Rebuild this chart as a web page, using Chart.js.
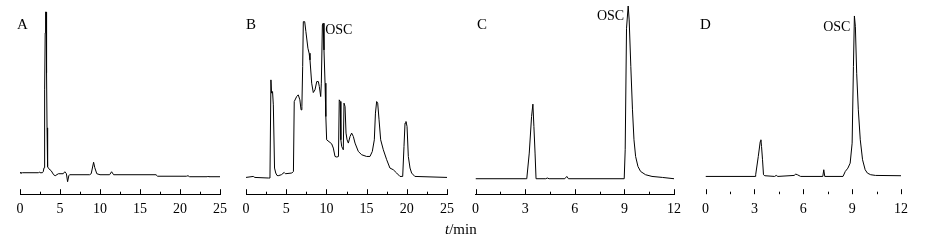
<!DOCTYPE html>
<html>
<head>
<meta charset="utf-8">
<script src="https://cdn.jsdelivr.net/npm/chart.js@4.4.1/dist/chart.umd.min.js"></script>
<style>
  html, body { margin: 0; padding: 0; background: #fff; }
  #wrap { position: relative; width: 941px; height: 242px; overflow: hidden; }
  #wrap canvas { position: absolute; top: 0; }
  #xlabel { position: absolute; left: 445px; top: 222px; font: 15px "Liberation Serif", serif; line-height: 15px; color: #000; }
</style>
</head>
<body>
<div id="wrap">
  <canvas id="chartA" width="235" height="242" style="left:0px"></canvas>
  <canvas id="chartB" width="230" height="242" style="left:235px"></canvas>
  <canvas id="chartC" width="230" height="242" style="left:465px"></canvas>
  <canvas id="chartD" width="246" height="242" style="left:695px"></canvas>
  <div id="xlabel"><i>t</i>/min</div>
</div>
<script>
// Chromatogram A: blank
const timeA = [0, 0.1, 0.3, 2.3, 2.4, 2.5, 2.8, 2.9, 3.0, 3.08,
  3.15, 3.2, 3.28, 3.32, 3.38, 3.45, 3.6, 3.9, 4.2, 4.4,
  4.8, 5.4, 5.6, 5.8, 5.95, 6.1, 6.2, 8.7, 8.9, 9.2,
  9.35, 9.6, 10, 11.2, 11.45, 11.7, 17, 17.2, 20.8, 21,
  21.2, 23.4, 23.5, 23.6, 25];
const signalA = [0.5, -0.5, 0, 0, 0.7, 0, 0, 1, 5, 83,
  140, 161, 161, 100, 45, 6, 4, 2, -2, -3,
  -1, -1, 1, -1, -9, -3, -2, -2, -1, 10.5,
  5, -1, -2, -2, 1, -2, -2, -3.5, -3.5, -3,
  -4, -4, -3.5, -4, -4];

// Chromatogram B: sample before cleanup
const timeB = [0, 0.9, 1.1, 2.8, 2.98, 3.1, 3.18, 3.3, 3.4, 3.55,
  3.7, 3.85, 4.0, 4.4, 4.75, 4.9, 5.7, 5.9, 6.0, 6.3,
  6.5, 6.7, 6.85, 6.95, 7.05, 7.13, 7.3, 7.45, 7.7, 7.85,
  7.96, 8.17, 8.37, 8.58, 8.8, 9.0, 9.12, 9.29, 9.37, 9.5,
  9.6, 9.7, 9.83, 9.93, 10.03, 10.45, 10.65, 10.86, 11.07, 11.3,
  11.5, 11.6, 11.72, 11.8, 11.9, 12.0, 12.1, 12.19, 12.32, 12.44,
  12.57, 12.73, 12.94, 13.14, 13.35, 13.56, 13.97, 14.39, 15.0, 15.42,
  15.71, 15.96, 16.1, 16.25, 16.38, 16.55, 16.75, 17.08, 17.5, 17.9,
  18.32, 18.74, 19.15, 19.49, 19.65, 19.78, 19.9, 20.03, 20.19, 20.4,
  20.6, 21, 25];
const signalB = [0.3, 1.3, 0.3, -0.3, -0.3, 98, 84.7, 86.3, 73, 9.7,
  4.7, 2.3, 2, 3, 5.3, 4, 4.7, 6.3, 76.3, 81.3,
  83, 78, 68, 71.3, 111.3, 156.3, 156.3, 146.3, 129.7, 124.7,
  118, 94.7, 85.3, 88, 96.3, 96.3, 91.3, 81.3, 94.7, 153,
  154.7, 128, 94.7, 61.3, 38, 35.3, 34, 29.7, 21.3, 20.7,
  21.3, 78, 76.3, 38, 31.3, 29.7, 28, 74.7, 71.3, 44.7,
  38, 34.7, 41.3, 44.7, 41.3, 34.7, 26.3, 23, 21.3, 21.3,
  26.3, 38, 64.7, 76.3, 74.7, 58, 38, 28, 18, 9.7,
  8, 4.7, 1.3, 1.3, 31.3, 54.7, 56.3, 51.3, 21.3, 9.7,
  4.7, 1.3, 0.3];

// Chromatogram C: OSC standard
const timeC = [0, 3.05, 3.1, 3.25, 3.39, 3.47, 3.53, 3.6, 3.66, 4.25,
  4.34, 4.45, 5.4, 5.52, 5.62, 8.99, 9.05, 9.13, 9.23, 9.29,
  9.39, 9.49, 9.58, 9.68, 9.82, 9.98, 10.28, 10.67, 11.3, 12];
const signalC = [0, 0, 0, 25.7, 62.3, 74.7, 52.3, 25.7, 0, 0,
  0.7, 0, 0, 2.3, 0, 0, 29, 150.7, 173, 159,
  112.3, 69, 39, 22.3, 12.3, 7.3, 4, 2.3, 1.3, 0];

// Chromatogram D: sample after cleanup
const timeD = [0, 3.04, 3.08, 3.24, 3.36, 3.4, 3.44, 3.5, 3.56, 3.64,
  4.24, 4.34, 4.44, 5.44, 5.54, 5.64, 5.84, 7.2, 7.26, 7.32,
  8.44, 8.58, 8.74, 8.88, 9.0, 9.08, 9.14, 9.2, 9.28, 9.38,
  9.5, 9.64, 9.8, 9.94, 10.14, 10.44, 12];
const signalD = [0, 0, 1.7, 20, 35, 36.7, 30, 16.7, 1.7, 0.7,
  0, 1, 0, 1, 2.3, 1.7, 0, 0, 6.7, 0,
  0, 5, 8.3, 13.3, 33.3, 110, 160.7, 150, 103.3, 66.7,
  36.7, 16.7, 6.7, 3.3, 1.7, 1, 0.7];

const panelLetters = ["A", "B", "C", "D"];
const peakName = "OSC";

const FONT = '"Liberation Serif", "Times New Roman", serif';

// upward ticks, panel letter and peak label
const decorPlugin = {
  id: "decor",
  afterDraw(chart, args, opts) {
    const ctx = chart.ctx;
    const xs = chart.scales.x;
    const y0 = chart.chartArea.bottom;
    ctx.save();
    ctx.strokeStyle = "#000";
    ctx.lineWidth = 1;
    ctx.beginPath();
    for (let v = xs.min; v <= xs.max + 1e-6; v += opts.minor) {
      const isMajor = Math.abs(v / opts.major - Math.round(v / opts.major)) < 1e-6;
      const len = isMajor ? 5 : 2.5;
      const px = Math.round(xs.getPixelForValue(v)) + 0.5;
      ctx.moveTo(px, y0);
      ctx.lineTo(px, y0 - len);
    }
    ctx.stroke();
    ctx.fillStyle = "#000";
    ctx.textBaseline = "middle";
    ctx.font = "15px " + FONT;
    ctx.textAlign = "left";
    ctx.fillText(opts.letter, opts.letterX, 25);
    if (opts.peak) {
      ctx.font = "14px " + FONT;
      ctx.textAlign = opts.peak.align;
      ctx.fillText(peakName, xs.getPixelForValue(opts.peak.t) + opts.peak.dx, opts.peak.y);
    }
    ctx.restore();
  }
};

function makeChart(id, times, values, cfg) {
  new Chart(document.getElementById(id), {
    type: "line",
    data: {
      datasets: [{
        data: times.map((t, i) => ({ x: t, y: values[i] })),
        borderColor: "#000",
        borderWidth: 1,
        pointRadius: 0,
        tension: 0,
        fill: false
      }]
    },
    options: {
      responsive: false,
      animation: false,
      devicePixelRatio: 1,
      layout: { padding: { left: cfg.padLeft, right: cfg.padRight, top: 0, bottom: 17 } },
      plugins: {
        legend: { display: false },
        tooltip: { enabled: false },
        decor: cfg.decor
      },
      scales: {
        x: {
          type: "linear",
          min: 0,
          max: cfg.xMax,
          grid: { display: false, drawTicks: false },
          border: { display: cfg.axisLine, color: "#000", width: 1 },
          ticks: {
            stepSize: cfg.step,
            color: "#000",
            padding: 7,
            maxRotation: 0,
            font: { family: FONT, size: 14 }
          }
        },
        y: {
          display: false,
          min: cfg.yMin,
          max: cfg.yMax
        }
      }
    },
    plugins: [decorPlugin]
  });
}

makeChart("chartA", timeA, signalA, {
  padLeft: 20, padRight: 15, xMax: 25, step: 5, axisLine: true,
  yMin: -21.5, yMax: 173,
  decor: { major: 5, minor: 2.5, letter: panelLetters[0], letterX: 17 }
});
makeChart("chartB", timeB, signalB, {
  padLeft: 11, padRight: 18, xMax: 25, step: 5, axisLine: true,
  yMin: -16.5, yMax: 178,
  decor: { major: 5, minor: 2.5, letter: panelLetters[1], letterX: 11,
    peak: { t: 9.6, dx: 2, y: 30, align: "left" } }
});
makeChart("chartC", timeC, signalC, {
  padLeft: 7, padRight: 21, xMax: 12, step: 3, axisLine: true,
  yMin: -15.5, yMax: 179,
  decor: { major: 3, minor: 1.5, letter: panelLetters[2], letterX: 12,
    peak: { t: 9.23, dx: -4, y: 16, align: "right" } }
});
makeChart("chartD", timeD, signalD, {
  padLeft: 6, padRight: 40, xMax: 12, step: 3, axisLine: false,
  yMin: -17.8, yMax: 176.7,
  decor: { major: 3, minor: 1.5, letter: panelLetters[3], letterX: 5,
    peak: { t: 9.14, dx: -4, y: 27, align: "right" } }
});
</script>
</body>
</html>
